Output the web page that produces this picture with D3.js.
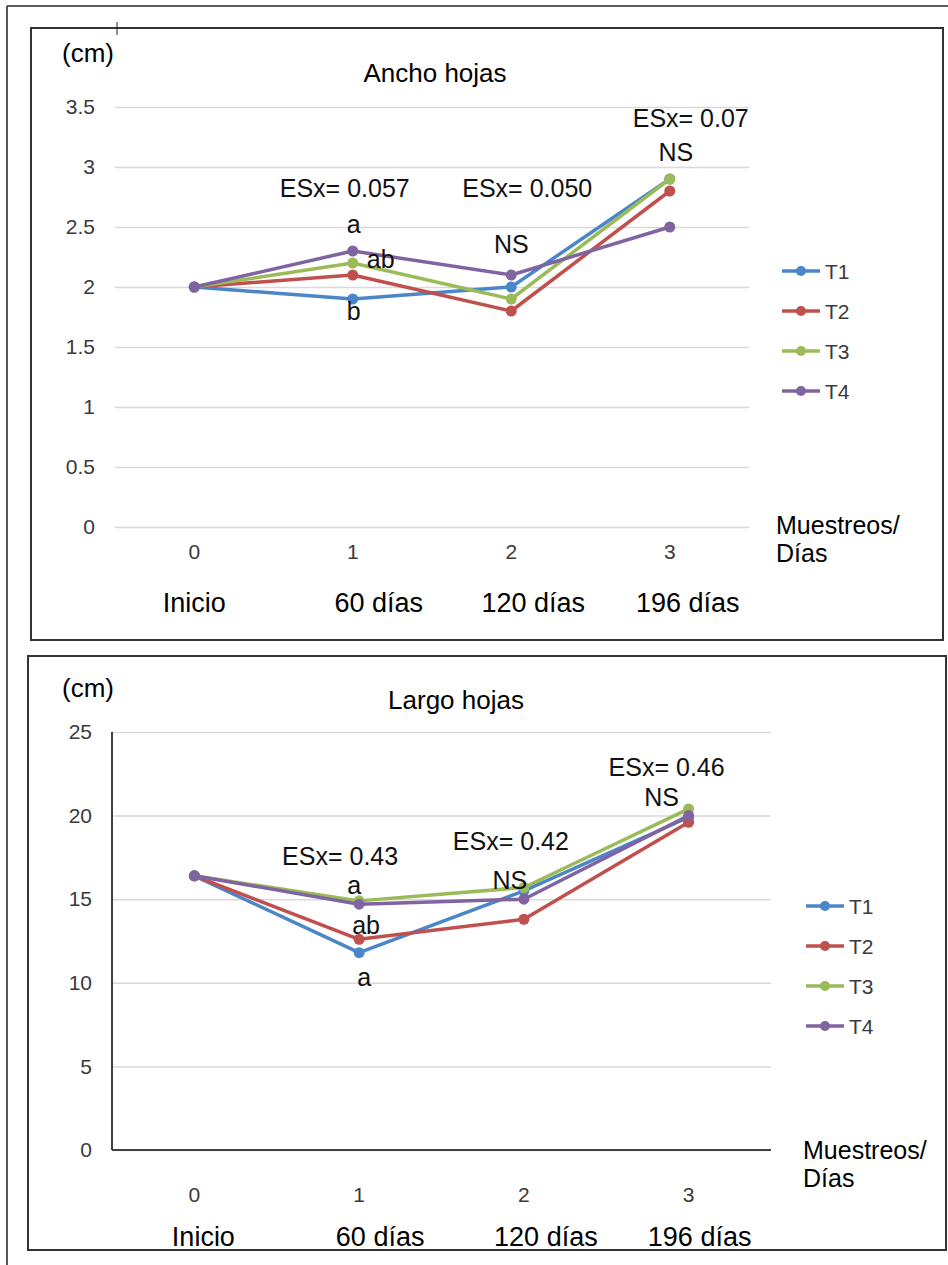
<!DOCTYPE html>
<html>
<head>
<meta charset="utf-8">
<script src="https://cdn.jsdelivr.net/npm/d3@7"></script>
<style>
  body { margin: 0; background: #fff; }
  svg { display: block; font-family: "Liberation Sans", Arial, sans-serif; }
</style>
</head>
<body>
<svg id="chart" width="948" height="1265"></svg>
<script>
// ---------------- data ----------------
const muestreos = [0, 1, 2, 3];
const fechas = ['Inicio', '60 días', '120 días', '196 días'];
const tratamientos = ['T1', 'T2', 'T3', 'T4'];
const colores = ['#4a86c8', '#c0504d', '#9bbb59', '#8064a2'];

// Ancho hojas (cm)
const anchoT1 = [2.0, 1.9, 2.0, 2.9];
const anchoT2 = [2.0, 2.1, 1.8, 2.8];
const anchoT3 = [2.0, 2.2, 1.9, 2.9];
const anchoT4 = [2.0, 2.3, 2.1, 2.5];
const anchoTicks = [0, 0.5, 1, 1.5, 2, 2.5, 3, 3.5];

// Largo hojas (cm)
const largoT1 = [16.4, 11.8, 15.5, 19.9];
const largoT2 = [16.4, 12.6, 13.8, 19.6];
const largoT3 = [16.4, 14.9, 15.7, 20.4];
const largoT4 = [16.4, 14.7, 15.0, 20.0];
const largoTicks = [0, 5, 10, 15, 20, 25];

// annotations: text, muestreo, value (vertical centre of the text)
const anchoNotas = [
  ['ESx= 0.057', 1, 2.825], ['a', 1, 2.52], ['ab', 1, 2.23], ['b', 1, 1.80],
  ['ESx= 0.050', 2, 2.825], ['NS', 2, 2.36],
  ['ESx= 0.07', 3, 3.41], ['NS', 3, 3.125]
];
const largoNotas = [
  ['ESx= 0.43', 1, 17.55], ['a', 1, 15.85], ['ab', 1, 13.46], ['a', 1, 10.35],
  ['ESx= 0.42', 2, 18.48], ['NS', 2, 16.15],
  ['ESx= 0.46', 3, 22.9], ['NS', 3, 21.08]
];
// horizontal nudges of the annotation texts (px), same order as above
const anchoDx = [-8, 1, 28, 1, 16, 0, 21, 6];
const largoDx = [-19, -5, 7, 5, -13, -14, -22, -27];

const svg = d3.select('#chart');

// frames
svg.append('line').attr('x1', 7).attr('x2', 7).attr('y1', 6).attr('y2', 1265)
  .attr('stroke', '#222').attr('stroke-width', 1.5);
svg.append('line').attr('x1', 7).attr('x2', 948).attr('y1', 6).attr('y2', 6)
  .attr('stroke', '#222').attr('stroke-width', 1.5);

function drawPanel(opt) {
  const g = svg.append('g');
  g.append('rect').attr('x', opt.box[0]).attr('y', opt.box[1])
    .attr('width', opt.box[2]).attr('height', opt.box[3])
    .attr('fill', '#fff').attr('stroke', '#333').attr('stroke-width', 2);

  const x = d3.scaleBand().domain(muestreos).range([opt.left, opt.right]);
  const y = d3.scaleLinear().domain([0, d3.max(opt.ticks)]).range([opt.bottom, opt.top]);

  // y axis with gridlines
  const yAxisG = g.append('g').attr('transform', `translate(${opt.left},0)`)
    .call(d3.axisLeft(y).tickValues(opt.ticks).tickFormat(d => String(d))
      .tickSize(-(opt.right - opt.left)).tickPadding(20));
  yAxisG.select('.domain').remove();
  yAxisG.selectAll('.tick line').attr('stroke', '#d9d9d9').attr('stroke-width', 1.5);
  yAxisG.selectAll('.tick text').attr('font-size', 21).attr('fill', '#3a3a3a')
    .attr('font-family', '"Liberation Sans", Arial, sans-serif');

  if (opt.axisLines) {
    g.append('line').attr('x1', opt.left).attr('x2', opt.left)
      .attr('y1', y(d3.max(opt.ticks))).attr('y2', opt.bottom)
      .attr('stroke', '#404040').attr('stroke-width', 2);
    g.append('line').attr('x1', opt.left).attr('x2', opt.right)
      .attr('y1', opt.bottom).attr('y2', opt.bottom)
      .attr('stroke', '#404040').attr('stroke-width', 2);
  }

  // x axis: numbers and dates
  const xAxisG = g.append('g').attr('transform', `translate(0,${opt.bottom})`)
    .call(d3.axisBottom(x).tickSize(0).tickPadding(opt.numPad));
  xAxisG.select('.domain').remove();
  xAxisG.selectAll('.tick text').attr('font-size', 21).attr('fill', '#3a3a3a')
    .attr('font-family', '"Liberation Sans", Arial, sans-serif');
  const xAxis2 = g.append('g').attr('transform', `translate(0,${opt.bottom})`)
    .call(d3.axisBottom(x).tickSize(0).tickPadding(opt.datePad).tickFormat((d, i) => fechas[i]));
  xAxis2.select('.domain').remove();
  xAxis2.selectAll('.tick text').attr('font-size', 27).attr('fill', '#000')
    .attr('font-family', '"Liberation Sans", Arial, sans-serif')
    .attr('dx', (d, i) => opt.dateDx[i]);

  const cx = d => x(d) + x.bandwidth() / 2;
  const line = d3.line().x((v, i) => cx(muestreos[i])).y(v => y(v));

  opt.series.forEach((vals, k) => {
    g.append('path').datum(vals).attr('d', line).attr('fill', 'none')
      .attr('stroke', colores[k]).attr('stroke-width', 3.5).attr('stroke-linejoin', 'round');
    g.selectAll(null).data(vals).enter().append('circle')
      .attr('cx', (v, i) => cx(muestreos[i])).attr('cy', v => y(v))
      .attr('r', 5.5).attr('fill', colores[k]);
  });

  // annotations
  g.selectAll(null).data(opt.notes).enter().append('text')
    .attr('x', (d, i) => cx(d[1]) + opt.dx[i]).attr('y', d => y(d[2]))
    .attr('dy', '0.35em')
    .attr('text-anchor', 'middle').attr('font-size', 25).attr('fill', '#111')
    .text(d => d[0]);

  // titles
  g.append('text').attr('x', 62).attr('y', opt.unitY).attr('dy', '0.35em')
    .attr('font-size', 26).text('(cm)');
  g.append('text').attr('x', opt.titleX).attr('y', opt.titleY).attr('dy', '0.35em')
    .attr('text-anchor', 'middle').attr('font-size', 26).text(opt.title);
  const mu = g.append('text').attr('x', opt.muX).attr('y', opt.muY).attr('dy', '0.35em')
    .attr('font-size', 25);
  mu.append('tspan').attr('x', opt.muX).text('Muestreos/');
  mu.append('tspan').attr('x', opt.muX).attr('dy', 28).text('Días');

  // legend
  const leg = g.selectAll(null).data(tratamientos).enter().append('g')
    .attr('transform', (d, i) => `translate(${opt.legX},${opt.legY + i * 40})`);
  leg.append('line').attr('x1', 0).attr('x2', 38).attr('stroke', (d, i) => colores[i])
    .attr('stroke-width', 3.5);
  leg.append('circle').attr('cx', 19).attr('r', 5).attr('fill', (d, i) => colores[i]);
  leg.append('text').attr('x', 43).attr('dy', '0.36em').attr('font-size', 21)
    .attr('fill', '#3a3a3a').text(d => d);

  return g;
}

drawPanel({
  box: [31, 28, 912, 612],
  left: 115, right: 749, top: 107, bottom: 527,
  ticks: anchoTicks,
  series: [anchoT1, anchoT2, anchoT3, anchoT4],
  notes: anchoNotas, dx: anchoDx,
  axisLines: false,
  numPad: 17, datePad: 66, dateDx: [0, 26, 22, 18],
  unitY: 53, title: 'Ancho hojas', titleX: 435, titleY: 73,
  muX: 776, muY: 525,
  legX: 782, legY: 271
});

drawPanel({
  box: [28, 656, 918, 594],
  left: 112, right: 771, top: 732, bottom: 1150,
  ticks: largoTicks,
  series: [largoT1, largoT2, largoT3, largoT4],
  notes: largoNotas, dx: largoDx,
  axisLines: true,
  numPad: 37, datePad: 77, dateDx: [9, 21, 22, 11],
  unitY: 688, title: 'Largo hojas', titleX: 456, titleY: 700,
  muX: 803, muY: 1150,
  legX: 806, legY: 906
});

// small tick mark over the top frame
svg.append('line').attr('x1', 117).attr('x2', 117).attr('y1', 22).attr('y2', 35)
  .attr('stroke', '#222').attr('stroke-width', 1);
</script>
</body>
</html>
